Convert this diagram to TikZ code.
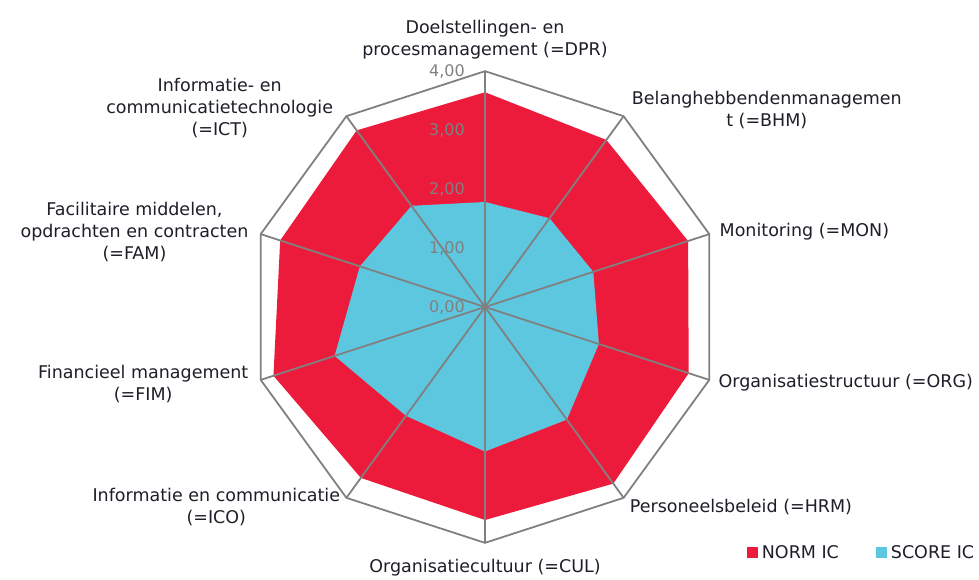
\documentclass[tikz,border=0pt]{standalone}
\usepackage{fontspec}
\setmainfont{DejaVu Sans}
\usetikzlibrary{positioning}
\definecolor{normred}{RGB}{237,27,59}
\definecolor{scoreblue}{RGB}{94,199,224}
\definecolor{gridgray}{RGB}{128,128,128}
\definecolor{labelink}{RGB}{30,30,40}

\begin{document}
\begin{tikzpicture}[x=1pt, y=1pt, node distance={5pt},
    axis/.style = {draw=gridgray, line width=1.8pt},
    lbl/.style = {font=\fontsize{17.5}{22}\selectfont, text=labelink, align=center, inner sep=1pt},
    tick/.style = {font=\fontsize{16}{20}\selectfont, text=gridgray, anchor=east, inner sep=0pt},
    key/.style = {minimum size=11pt, inner sep=0pt}]
        \useasboundingbox (-485,-272) rectangle (494,307);

        \begin{scope}[scale=59]
            \coordinate (O) at (0,0);
            \foreach \name/\ang in {DPR/90, BHM/54, MON/18, ORG/-18, HRM/-54, CUL/-90, ICO/-126, FIM/-162, FAM/162, ICT/126}
                \coordinate (\name) at (\ang:4);

            % NORM IC
            \fill[normred] (90:3.64) -- (54:3.50) -- (18:3.62) -- (-18:3.63) -- (-54:3.70) -- (-90:3.61)
                -- (-126:3.58) -- (-162:3.77) -- (162:3.65) -- (126:3.70) -- cycle;
            % SCORE IC
            \fill[scoreblue] (90:1.78) -- (54:1.86) -- (18:1.93) -- (-18:2.03) -- (-54:2.36) -- (-90:2.45)
                -- (-126:2.28) -- (-162:2.68) -- (162:2.23) -- (126:2.12) -- cycle;

            \foreach \name in {DPR, BHM, MON, ORG, HRM, CUL, ICO, FIM, FAM, ICT}
                \draw[axis] (O) -- (\name);
            \draw[axis] (DPR) -- (BHM) -- (MON) -- (ORG) -- (HRM) -- (CUL) -- (ICO) -- (FIM) -- (FAM) -- (ICT) -- cycle;

            \foreach \v in {0,...,4}
                \node[tick] (tick\v) at (-0.34,\v) {\v,00};
        \end{scope}

        \node[lbl, above=11pt of DPR] (dprlabel) {Doelstellingen- en\\procesmanagement (=DPR)};
        \node[lbl, right=7pt of BHM, yshift=6pt] (bhmlabel) {Belanghebbendenmanagemen\\t (=BHM)};
        \node[lbl, right=9pt of MON, yshift=2pt] (monlabel) {Monitoring (=MON)};
        \node[lbl, right=8pt of ORG, yshift=-3pt] (orglabel) {Organisatiestructuur (=ORG)};
        \node[lbl, right=5pt of HRM, yshift=-9pt] (hrmlabel) {Personeelsbeleid (=HRM)};
        \node[lbl, below=15pt of CUL] (cullabel) {Organisatiecultuur (=CUL)};
        \node[lbl, left=5pt of ICO, yshift=-9pt] (icolabel) {Informatie en communicatie\\(=ICO)};
        \node[lbl, left=11pt of FIM, yshift=-4pt] (fimlabel) {Financieel management\\(=FIM)};
        \node[lbl, left=11pt of FAM, yshift=2pt] (famlabel) {Facilitaire middelen,\\opdrachten en contracten\\(=FAM)};
        \node[lbl, left=12pt of ICT, yshift=8pt] (ictlabel) {Informatie- en\\communicatietechnologie\\(=ICT)};

        \node[key, fill=normred] (normkey) at (267,-245) {};
        \node[lbl, right=3pt of normkey] (normtext) {NORM IC};
        \node[key, fill=scoreblue] (scorekey) at (396,-245) {};
        \node[lbl, right=3pt of scorekey] (scoretext) {SCORE IC};

    \end{tikzpicture}
\end{document}
